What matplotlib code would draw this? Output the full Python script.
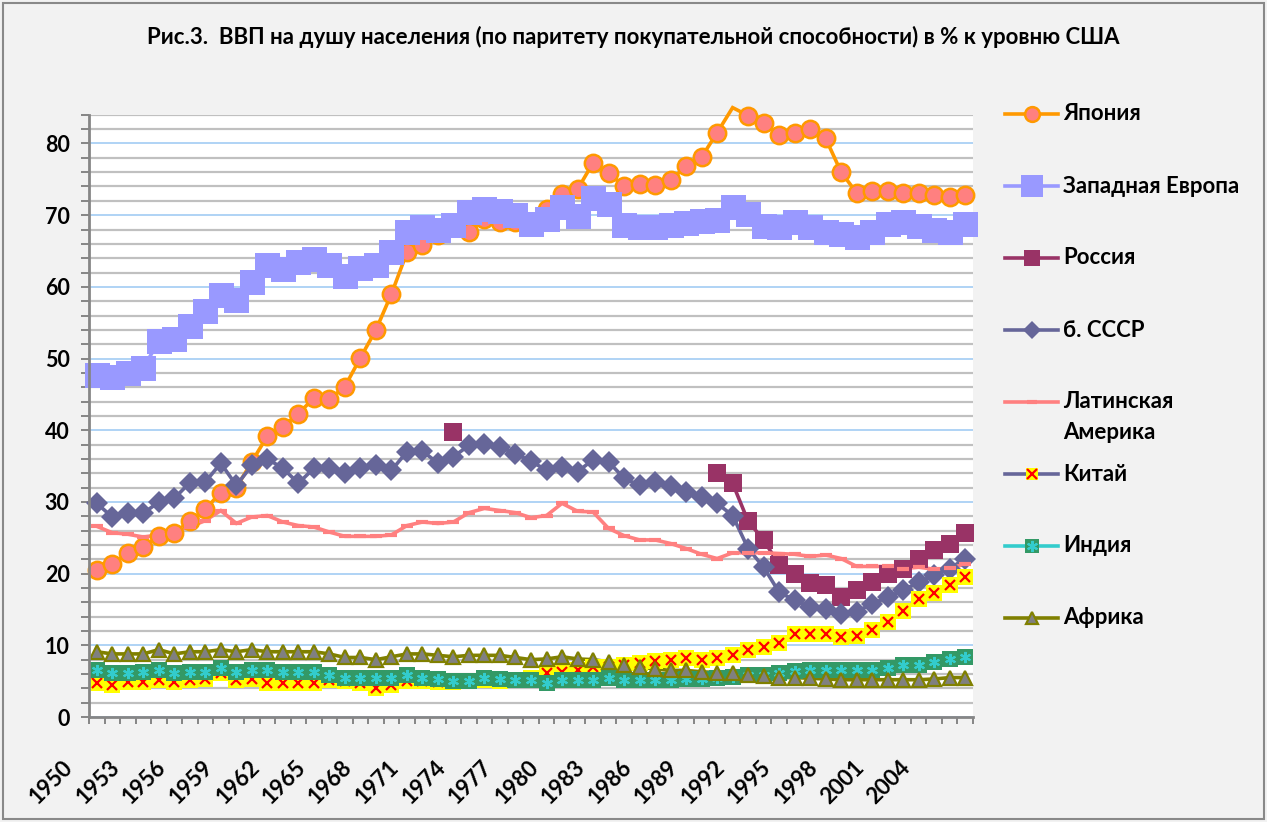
import numpy as np
import matplotlib
matplotlib.use("Agg")
import matplotlib.pyplot as plt
from matplotlib.lines import Line2D
from matplotlib.patches import Rectangle
from matplotlib.transforms import ScaledTranslation
from matplotlib.ticker import MultipleLocator, FixedLocator

plt.rcParams['font.family'] = ['Lato', 'DejaVu Sans']

# ---------------- data ----------------
years = list(range(1950, 2007))
tick_years = [1950, 1953, 1956, 1959, 1962, 1965, 1968, 1971, 1974, 1977,
              1980, 1983, 1986, 1989, 1992, 1995, 1998, 2001, 2004]

title = "Рис.3.  ВВП на душу населения (по паритету покупательной способности) в % к уровню США"

japan = [20.5, 21.3, 22.9, 23.7, 25.3, 25.7, 27.3, 29.0, 31.3, 32.0,
         35.6, 39.2, 40.5, 42.3, 44.5, 44.3, 46.1, 50.1, 54.0, 59.0,
         64.8, 65.9, 67.3, 68.5, 67.7, 69.5, 69.1, 69.0, 68.6, 70.9,
         73.0, 73.6, 77.3, 75.9, 74.0, 74.4, 74.2, 74.9, 76.8, 78.1,
         81.5, 85.0, 83.9, 82.8, 81.2, 81.5, 82.0, 80.7, 76.0, 73.1,
         73.4, 73.4, 73.1, 73.1, 72.8, 72.6, 72.8]

west_europe = [47.7, 47.4, 48.0, 48.7, 52.4, 52.7, 54.5, 56.6, 58.9, 58.1,
               60.7, 63.1, 62.5, 63.4, 63.9, 63.0, 61.5, 62.6, 63.0, 64.9,
               67.7, 68.3, 68.0, 68.6, 70.4, 70.9, 70.6, 70.0, 68.8, 69.4,
               71.2, 69.9, 72.4, 71.5, 68.6, 68.3, 68.4, 68.6, 68.9, 69.2,
               69.3, 71.1, 70.2, 68.5, 68.4, 69.0, 68.4, 67.6, 67.4, 67.0,
               67.6, 68.8, 69.0, 68.5, 68.0, 67.7, 68.8]

nan = np.nan
russia = [nan] * 23 + [39.7] + [nan] * 16 + \
         [34.0, 32.6, 27.3, 24.7, 21.2, 20.0, 18.7, 18.4, 16.7, 17.7,
          18.8, 20.0, 20.7, 22.1, 23.3, 24.2, 25.6]

ussr = [29.8, 27.9, 28.4, 28.4, 30.0, 30.5, 32.7, 32.8, 35.4, 32.3,
        35.1, 36.0, 34.7, 32.6, 34.7, 34.7, 34.0, 34.7, 35.1, 34.4,
        37.0, 37.1, 35.4, 36.3, 37.9, 38.1, 37.7, 36.7, 35.7, 34.4,
        34.9, 34.2, 35.9, 35.6, 33.3, 32.3, 32.8, 32.2, 31.4, 30.7,
        29.8, 28.1, 23.5, 20.9, 17.4, 16.3, 15.3, 15.1, 14.4, 14.7,
        15.8, 16.7, 17.7, 18.8, 19.8, 20.7, 22.1]

latin_america = [26.6, 25.7, 25.5, 25.1, 25.4, 26.0, 26.5, 27.4, 28.8, 27.0,
                 27.9, 28.1, 27.2, 26.7, 26.5, 25.8, 25.2, 25.2, 25.2, 25.4,
                 26.7, 27.2, 27.0, 27.2, 28.5, 29.1, 28.8, 28.5, 27.8, 28.1,
                 29.8, 28.7, 28.6, 26.3, 25.3, 24.7, 24.7, 24.2, 23.5, 22.7,
                 22.1, 22.9, 22.9, 22.9, 22.8, 22.7, 22.4, 22.6, 22.1, 21.0,
                 21.0, 21.0, 20.7, 20.9, 20.6, 20.8, 21.3]

china = [4.7, 4.5, 4.9, 4.9, 5.2, 4.9, 5.2, 5.3, 6.1, 5.2,
         5.3, 4.7, 4.7, 4.7, 4.8, 5.1, 5.0, 4.8, 4.1, 4.5,
         5.0, 5.0, 4.9, 4.9, 5.0, 5.2, 5.0, 5.1, 5.5, 6.1,
         6.3, 6.6, 7.0, 7.0, 7.3, 7.6, 7.8, 8.0, 8.2, 8.0,
         8.2, 8.7, 9.3, 9.8, 10.3, 11.6, 11.6, 11.6, 11.1, 11.3,
         12.1, 13.2, 14.8, 16.5, 17.3, 18.4, 19.5]

india = [6.6, 6.1, 6.1, 6.3, 6.5, 6.2, 6.3, 6.3, 6.8, 6.3,
         6.5, 6.6, 6.3, 6.3, 6.3, 5.8, 5.5, 5.5, 5.5, 5.5,
         5.9, 5.5, 5.3, 5.0, 5.0, 5.5, 5.3, 5.2, 5.2, 4.8,
         5.1, 5.2, 5.2, 5.5, 5.2, 5.2, 5.2, 5.2, 5.3, 5.3,
         5.4, 5.6, 5.8, 5.8, 6.1, 6.4, 6.6, 6.6, 6.6, 6.6,
         6.6, 6.9, 7.2, 7.3, 7.7, 8.1, 8.4]

africa = [9.1, 8.8, 8.8, 8.8, 9.4, 8.8, 9.1, 9.1, 9.4, 9.1,
          9.4, 9.1, 9.1, 9.1, 9.1, 8.8, 8.3, 8.3, 8.0, 8.4,
          8.8, 8.8, 8.6, 8.4, 8.6, 8.6, 8.6, 8.3, 8.0, 8.1,
          8.4, 8.1, 8.0, 7.7, 7.2, 7.0, 6.7, 6.5, 6.5, 6.3,
          6.2, 6.2, 5.9, 5.7, 5.5, 5.5, 5.4, 5.3, 5.2, 5.2,
          5.2, 5.2, 5.2, 5.2, 5.3, 5.5, 5.5]

labels = ["Япония", "Западная Европа", "Россия", "б. СССР",
          "Латинская Америка", "Китай", "Индия", "Африка"]

# ---------------- styles ----------------
styles = [
    dict(color='#FF9900', lw=2.6, marker='o', ms=12.5, mfc='#FF8080', mec='#FF9900', mew=1.8),
    dict(color='#9999FF', lw=2.6, marker='s', ms=18, mfc='#9999FF', mec='#9999FF', mew=0),
    dict(color='#993366', lw=2.6, marker='s', ms=13, mfc='#993366', mec='#993366', mew=0),
    dict(color='#666699', lw=2.6, marker='D', ms=11, mfc='#666699', mec='#666699', mew=0),
    dict(color='#FF8080', lw=2.6, marker='_', ms=9, mfc='#FF8080', mec='#FF8080', mew=3),
    dict(color='#666699', lw=2.6, marker='s', ms=11, mfc='#FFFF00', mec='#FFFF00', mew=0),
    dict(color='#33CCCC', lw=2.6, marker='s', ms=12, mfc='#339966', mec='#339966', mew=0),
    dict(color='#808000', lw=2.6, marker='^', ms=9.5, mfc='#808080', mec='#808000', mew=1.6),
]
# secondary glyph inside marker (China: red x, India: turquoise asterisk)
inner = {5: dict(marker='x', ms=6.5, mec='#FF0000', mew=1.6),
         6: dict(marker=(6, 2, 0), ms=8, mec='#33CCCC', mew=1.5)}

series = [japan, west_europe, russia, ussr, latin_america, china, india, africa]

W, H = 1267, 822
fig = plt.figure(figsize=(W / 100, H / 100), dpi=100)
fig.patch.set_facecolor('#F2F2F2')

def fx(px):
    return px / W

def fy(py):
    return 1 - py / H

ymax = 84
ax_left, ax_right, ax_top, ax_bottom = 89, 973, 114.8, 717
ax = fig.add_axes([fx(ax_left), fy(ax_bottom), fx(ax_right - ax_left), (ax_bottom - ax_top) / H])
ax.set_facecolor('white')

x = np.arange(len(years))

# lines first (all series), then markers (all series) - like Excel
for k, (vals, st) in enumerate(zip(series, styles)):
    v = np.array(vals, dtype=float)
    ax.plot(x, v, color=st['color'], lw=st['lw'], solid_joinstyle='miter',
            zorder=3, clip_on=False)
for k, (vals, st) in enumerate(zip(series, styles)):
    v = np.array(vals, dtype=float)
    vm = np.where(v > ymax, np.nan, v)
    ax.plot(x, vm, ls='none', marker=st['marker'], ms=st['ms'], mfc=st['mfc'],
            mec=st['mec'], mew=st['mew'], zorder=4 + k * 0.1, clip_on=False)
    if k in inner:
        it = inner[k]
        ax.plot(x, vm, ls='none', marker=it['marker'], ms=it['ms'], mec=it['mec'],
                mew=it['mew'], zorder=4 + k * 0.1 + 0.05, clip_on=False)

ax.set_xlim(-0.5, len(years) - 0.5)
ax.set_ylim(0, ymax)

# y axis
ax.yaxis.set_major_locator(MultipleLocator(10))
ax.yaxis.set_minor_locator(MultipleLocator(2))
ax.yaxis.grid(True, which='major', color='#A9D0F5', lw=1.3, zorder=1)
ax.yaxis.grid(True, which='minor', color='#C0C0C0', lw=1.6, zorder=1)
ax.set_axisbelow(True)
ax.tick_params(axis='y', which='both', direction='out', length=6, width=1.4,
               color='#868686', pad=8, labelsize=15.5)
for t in ax.get_yticklabels():
    t.set_fontweight('bold')

# x axis: labels at category centres, tick marks between categories
ax.xaxis.set_major_locator(FixedLocator([years.index(yv) for yv in tick_years]))
ax.set_xticklabels([str(yv) for yv in tick_years])
ax.xaxis.set_minor_locator(FixedLocator(np.arange(-0.5, len(years), 1.0)))
ax.tick_params(axis='x', which='major', length=0, pad=34, labelsize=16)
ax.tick_params(axis='x', which='minor', direction='out', length=5, width=1.4, color='#868686')
off = ScaledTranslation(-27 / 100, 0, fig.dpi_scale_trans)
for t in ax.get_xticklabels():
    t.set_rotation(45)
    t.set_rotation_mode('anchor')
    t.set_ha('right')
    t.set_va('center')
    t.set_fontweight('bold')
    t.set_transform(t.get_transform() + off)

for s in ['top', 'right']:
    ax.spines[s].set_visible(False)
for s in ['left', 'bottom']:
    ax.spines[s].set_color('#868686')
    ax.spines[s].set_linewidth(2)
    ax.spines[s].set_zorder(5)

# title
fig.text(0.5, fy(37), title, ha='center', va='center', fontsize=16, fontweight='bold')

# legend (manual, Excel-like)
leg_y = [114, 186, 258, 330, 402, 474, 546, 618]
x0, x1, xt = 1005, 1058, 1063
for k, (lab, st) in enumerate(zip(labels, styles)):
    yy = fy(leg_y[k])
    fig.add_artist(Line2D([fx(x0), fx(x1)], [yy, yy], color=st['color'], lw=st['lw']))
    fig.add_artist(Line2D([fx((x0 + x1) / 2)], [yy], ls='none', marker=st['marker'],
                          ms=st['ms'] * 0.85, mfc=st['mfc'], mec=st['mec'], mew=st['mew']))
    if k in inner:
        it = inner[k]
        fig.add_artist(Line2D([fx((x0 + x1) / 2)], [yy], ls='none', marker=it['marker'],
                              ms=it['ms'], mec=it['mec'], mew=it['mew']))
    parts = lab.split(' ') if k == 4 else [lab]
    for j, p in enumerate(parts):
        fig.text(fx(xt), fy(leg_y[k] + 30 * j), p, ha='left', va='center',
                 fontsize=16, fontweight='bold')

# outer border of chart area
fig.add_artist(Rectangle((fx(3), fy(819)), fx(1261), (816) / H, fill=False,
                         ec='#898989', lw=1.5, transform=fig.transFigure))

fig.savefig('out.png', dpi=100, facecolor=fig.get_facecolor())
